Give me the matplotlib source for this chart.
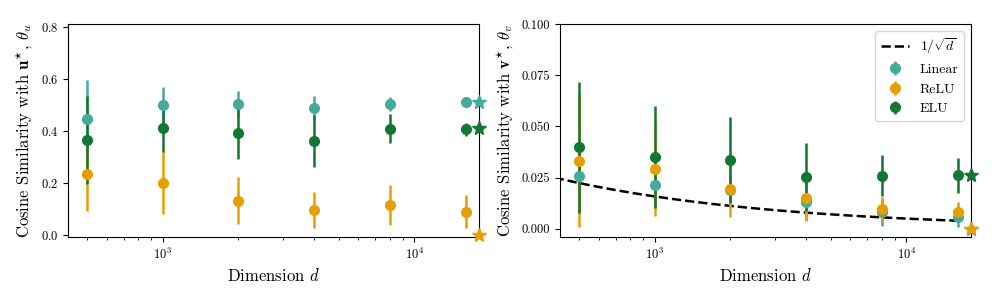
import numpy as np
import matplotlib
matplotlib.use("Agg")
import matplotlib.pyplot as plt

plt.rcParams['font.family'] = 'serif'
plt.rcParams['font.serif'] = ['cmr10']
plt.rcParams['mathtext.fontset'] = 'cm'
plt.rcParams['axes.formatter.use_mathtext'] = True
plt.rcParams['axes.unicode_minus'] = False

# ---- data ----
dims = [500, 1000, 2000, 4000, 8000, 16000]
star_x = 18100

u_linear = [0.447, 0.499, 0.503, 0.487, 0.504, 0.510]
u_linear_err = [0.148, 0.068, 0.051, 0.047, 0.027, 0.005]
u_relu = [0.233, 0.201, 0.131, 0.096, 0.116, 0.089]
u_relu_err = [0.140, 0.120, 0.090, 0.070, 0.077, 0.064]
u_elu = [0.365, 0.412, 0.391, 0.361, 0.408, 0.406]
u_elu_err = [0.168, 0.092, 0.100, 0.100, 0.055, 0.025]
u_star = {'Linear': 0.510, 'ReLU': 0.0, 'ELU': 0.412}

v_linear = [0.0257, 0.0213, 0.0188, 0.0133, 0.0081, 0.0059]
v_linear_err = [0.018, 0.011, 0.007, 0.009, 0.0068, 0.005]
v_relu = [0.0333, 0.0293, 0.0192, 0.0151, 0.0098, 0.0081]
v_relu_err = [0.0325, 0.023, 0.0134, 0.0114, 0.0058, 0.005]
v_elu = [0.0398, 0.0351, 0.0337, 0.0254, 0.0260, 0.0262]
v_elu_err = [0.032, 0.0247, 0.021, 0.0166, 0.0102, 0.0085]
v_star = {'Linear': 0.0, 'ReLU': 0.0, 'ELU': 0.0264}

ref_d = np.geomspace(400, 16000, 60)
ref_scale = 0.5

colors = {'Linear': '#44AA99', 'ReLU': '#E69F00', 'ELU': '#117733'}

fig = plt.figure(figsize=(9.96, 3.0), dpi=100)
ax1 = fig.add_axes([68/996, 63/300, 411/996, 213/300])
ax2 = fig.add_axes([560/996, 63/300, 411/996, 213/300])

def panel(ax, series, stars):
    for name, (vals, errs) in series.items():
        ax.errorbar(dims, vals, yerr=errs, fmt='o', color=colors[name],
                    ms=7, elinewidth=1.8, capsize=0, label=name)
    for name in ['Linear', 'ReLU', 'ELU']:
        ax.plot([star_x], [stars[name]], marker='*', ms=10, color=colors[name],
                linestyle='none', clip_on=False, zorder=3)
    ax.set_xscale('log')
    ax.set_xlim(420, star_x)
    ax.set_xlabel(r'Dimension $d$', fontsize=12)
    ax.tick_params(labelsize=9)

panel(ax1, {'Linear': (u_linear, u_linear_err), 'ReLU': (u_relu, u_relu_err),
            'ELU': (u_elu, u_elu_err)}, u_star)
ax1.set_ylim(-0.008, 0.81)
ax1.set_yticks([0.0, 0.2, 0.4, 0.6, 0.8])
ax1.set_ylabel(r'Cosine Similarity with $\mathbf{u}^{\star}$, $\theta_u$', fontsize=12)

ax2.plot(ref_d, ref_scale / np.sqrt(ref_d), 'k--', lw=1.8, label=r'$1/\sqrt{d}$')
panel(ax2, {'Linear': (v_linear, v_linear_err), 'ReLU': (v_relu, v_relu_err),
            'ELU': (v_elu, v_elu_err)}, v_star)
ax2.set_ylim(-0.004, 0.1)
ax2.set_yticks([0.0, 0.025, 0.05, 0.075, 0.1])
ax2.set_yticklabels(['0.000', '0.025', '0.050', '0.075', '0.100'])
ax2.set_ylabel(r'Cosine Similarity with $\mathbf{v}^{\star}$, $\theta_v$', fontsize=12)
ax2.legend(loc='upper right', fontsize=10)

fig.savefig('out.png', dpi=100)
